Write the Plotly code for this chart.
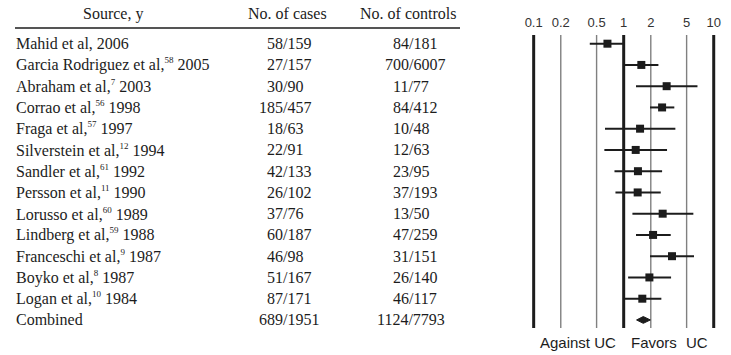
import plotly.graph_objects as go

# ---------------- data ----------------
authors = ["Mahid et al", "Garcia Rodriguez et al", "Abraham et al", "Corrao et al",
           "Fraga et al", "Silverstein et al", "Sandler et al", "Persson et al",
           "Lorusso et al", "Lindberg et al", "Franceschi et al", "Boyko et al",
           "Logan et al", "Combined"]
refs = ["", "58", "7", "56", "57", "12", "61", "11", "60", "59", "9", "8", "10", ""]
years = ["2006", "2005", "2003", "1998", "1997", "1994", "1992", "1990", "1989",
         "1988", "1987", "1987", "1984", ""]
cases_n = [58, 27, 30, 185, 18, 22, 42, 26, 37, 60, 46, 51, 87, 689]
cases_tot = [159, 157, 90, 457, 63, 91, 133, 102, 76, 187, 98, 167, 171, 1951]
ctrl_n = [84, 700, 11, 84, 10, 12, 23, 37, 13, 47, 31, 26, 46, 1124]
ctrl_tot = [181, 6007, 77, 412, 48, 63, 95, 193, 50, 259, 151, 140, 117, 7793]

# odds ratios and 95% CI (last = combined, drawn as diamond)
odds = [0.66, 1.57, 3.0, 2.67, 1.52, 1.36, 1.44, 1.43, 2.71, 2.12, 3.44, 1.93, 1.61, 1.65]
ci_lo = [0.42, 1.03, 1.37, 1.96, 0.62, 0.61, 0.79, 0.81, 1.25, 1.37, 1.96, 1.12, 1.03, 1.39]
ci_hi = [1.0, 2.43, 6.6, 3.65, 3.75, 3.03, 2.67, 2.58, 5.94, 3.33, 6.04, 3.36, 2.62, 1.98]

tick_vals = [0.1, 0.2, 0.5, 1, 2, 5, 10]
tick_text = ["0.1", "0.2", "0.5", "1", "2", "5", "10"]
thick_ticks = [0.1, 1, 10]

headers = ["Source, y", "No. of cases", "No. of controls"]
side_labels = ["Against UC", "Favors", "UC"]

# ---------------- figure ----------------
W, H = 731, 355
DARK = "#1c1c1c"
SERIF = "Liberation Serif, Times New Roman, serif"
SANS = "Liberation Sans, Arial, sans-serif"
FS = 16
DIGIT_W = FS * 0.5  # Times digit advance

n = len(authors)
studies = list(range(n - 1))
comb = n - 1

fig = go.Figure()

# vertical reference lines
for v in tick_vals:
    thick = v in thick_ticks
    fig.add_trace(go.Scatter(
        x=[v, v], y=[-0.41, 13.38], mode="lines",
        line=dict(color=DARK if thick else "#808080", width=3 if thick else 1.4),
        hoverinfo="skip", showlegend=False))

# CI lines
xs, ys = [], []
for i in studies:
    xs += [ci_lo[i], ci_hi[i], None]
    ys += [i, i, None]
fig.add_trace(go.Scatter(x=xs, y=ys, mode="lines",
                         line=dict(color=DARK, width=2), showlegend=False))

# point estimates
fig.add_trace(go.Scatter(x=[odds[i] for i in studies], y=studies, mode="markers",
                         marker=dict(symbol="square", size=8, color=DARK),
                         showlegend=False))

# combined diamond
dh = 0.16
fig.add_trace(go.Scatter(
    x=[ci_lo[comb], odds[comb], ci_hi[comb], odds[comb], ci_lo[comb]],
    y=[comb, comb - dh, comb, comb + dh, comb],
    mode="lines", fill="toself", fillcolor=DARK,
    line=dict(color=DARK, width=1), showlegend=False))

# tick labels at top
fig.add_trace(go.Scatter(x=tick_vals, y=[-0.93] * len(tick_vals), mode="text",
                         text=tick_text, textposition="middle center",
                         textfont=dict(family=SANS, size=13, color="#333333"),
                         showlegend=False, cliponaxis=False))

ann = []
def px(x):
    return x / W

# headers
for txt, xc in zip(headers, [113, 287, 408]):
    ann.append(dict(x=px(xc), y=1 - 14 / H, xref="paper", yref="paper", text=txt,
                    showarrow=False, xanchor="center", yanchor="middle",
                    font=dict(family=SERIF, size=FS, color=DARK)))

# table rows
for i in range(n):
    if authors[i] == "Combined":
        label = "Combined"
    elif refs[i]:
        label = (f"{authors[i]},<sup><span style='font-size:9px'>{refs[i]}</span></sup>"
                 f" {years[i]}")
    else:
        label = f"{authors[i]}, {years[i]}"
    ann.append(dict(x=px(14), y=i, xref="paper", yref="y", text=label,
                    showarrow=False, xanchor="left", yanchor="middle",
                    font=dict(family=SERIF, size=FS, color=DARK)))
    # slash-aligned cells
    for num, tot, sx in [(cases_n[i], cases_tot[i], 281), (ctrl_n[i], ctrl_tot[i], 407)]:
        left = sx - DIGIT_W * len(str(num))
        ann.append(dict(x=px(left), y=i, xref="paper", yref="y", text=f"{num}/{tot}",
                        showarrow=False, xanchor="left", yanchor="middle",
                        font=dict(family=SERIF, size=FS, color=DARK)))

# bottom side labels
for txt, xc in zip(side_labels, [578, 653.5, 697]):
    ann.append(dict(x=px(xc), y=1 - 342 / H, xref="paper", yref="paper", text=txt,
                    showarrow=False, xanchor="center", yanchor="middle",
                    font=dict(family=SANS, size=15, color=DARK)))

shapes = [dict(type="line", xref="paper", yref="paper",
               x0=px(15), x1=px(460), y0=1 - 28 / H, y1=1 - 28 / H,
               line=dict(color=DARK, width=1.5))]

fig.update_layout(
    width=W, height=H, margin=dict(l=0, r=0, t=0, b=0),
    paper_bgcolor="white", plot_bgcolor="white",
    xaxis=dict(type="log", domain=[500 / W, 1], range=[-1.374, 1.192],
               showgrid=False, zeroline=False, showticklabels=False, showline=False,
               ticks=""),
    yaxis=dict(range=[14.65, -2.056], domain=[0, 1], showgrid=False, zeroline=False,
               showticklabels=False, showline=False, ticks=""),
    annotations=ann, shapes=shapes, showlegend=False,
)

fig.write_html("out.html")
